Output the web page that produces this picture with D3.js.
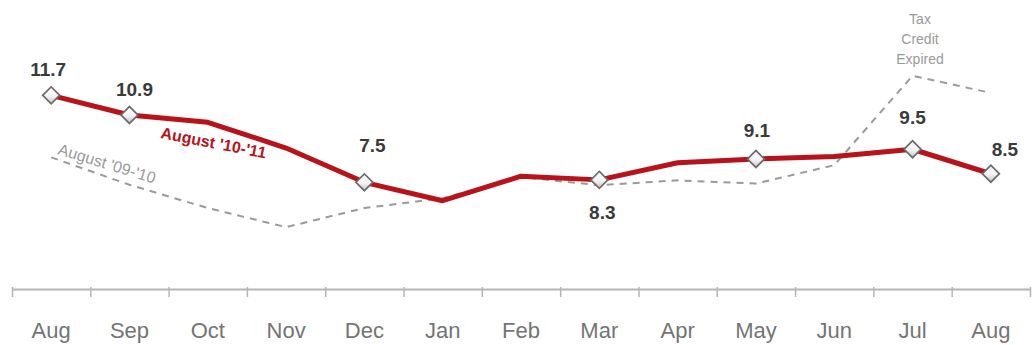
<!DOCTYPE html>
<html>
<head>
<meta charset="utf-8">
<script src="https://cdn.jsdelivr.net/npm/d3@7"></script>
<style>
  body { margin: 0; background: #fff; }
  svg { display: block; font-family: "Liberation Sans", Arial, sans-serif; }
</style>
</head>
<body>
<svg id="chart" width="1034" height="345"></svg>
<script>
// months on the axis
const months = ["Aug","Sep","Oct","Nov","Dec","Jan","Feb","Mar","Apr","May","Jun","Jul","Aug"];
// August '10-'11 (red line)
const current = [11.7, 10.9, 10.6, 9.55, 8.15, 7.4, 8.4, 8.25, 8.95, 9.1, 9.2, 9.5, 8.5];
// August '09-'10 (grey dashed line)
const previous = [9.17, 8.05, 7.1, 6.32, 7.1, 7.5, 8.36, 8.03, 8.23, 8.1, 8.85, 12.5, 11.8];
// labelled points: index, text
const labelIdx = [0, 1, 4, 7, 9, 11, 12];
const labelText = ["11.7", "10.9", "7.5", "8.3", "9.1", "9.5", "8.5"];

const svg = d3.select("#chart");
const axisY = 289;

const x = d3.scaleBand().domain(d3.range(months.length)).range([12, 1030]);
const xEdge = d3.scaleLinear().domain([0, months.length]).range([12, 1030]);
const y = d3.scaleLinear().domain([6, 12]).range([235, 88]);

const cx = i => x(i) + x.bandwidth() / 2;

// diamond gradient
const defs = svg.append("defs");
const grad = defs.append("linearGradient").attr("id", "dia")
    .attr("x1", "0").attr("y1", "0").attr("x2", "1").attr("y2", "1");
grad.append("stop").attr("offset", "0%").attr("stop-color", "#ffffff");
grad.append("stop").attr("offset", "55%").attr("stop-color", "#f2f2f2");
grad.append("stop").attr("offset", "100%").attr("stop-color", "#c4c4c4");

// axis: line with ticks at band edges
const tickAxis = d3.axisBottom(xEdge)
    .tickValues(d3.range(months.length + 1))
    .tickFormat("")
    .tickSize(8)
    .tickSizeOuter(0);
const gTicks = svg.append("g").attr("transform", `translate(0,${axisY})`).call(tickAxis);
gTicks.select(".domain").attr("stroke", "#b5b5b5").attr("stroke-width", 2);
gTicks.selectAll(".tick line").attr("stroke", "#b5b5b5").attr("stroke-width", 1.5).attr("y1", -2);

const labelAxis = d3.axisBottom(x).tickSize(0).tickPadding(0).tickFormat(i => months[i]);
const gLabels = svg.append("g").attr("transform", `translate(0,${axisY})`).call(labelAxis);
gLabels.select(".domain").remove();
gLabels.selectAll("text")
    .attr("dy", null).attr("y", 49)
    .attr("font-size", 22).attr("font-family", "\"Liberation Sans\", Arial, sans-serif")
    .attr("fill", "#747474");

// grey dashed line
const line = d3.line().x((d, i) => cx(i)).y(d => y(d));
svg.append("path").datum(previous)
    .attr("d", line)
    .attr("fill", "none")
    .attr("stroke", "#9a9a9a")
    .attr("stroke-width", 2)
    .attr("stroke-dasharray", "7,6");

// red line
svg.append("path").datum(current)
    .attr("d", line)
    .attr("fill", "none")
    .attr("stroke", "#b8121b")
    .attr("stroke-width", 5)
    .attr("stroke-linejoin", "round");

// diamonds
svg.selectAll("rect.dia").data(labelIdx).enter().append("rect")
    .attr("class", "dia")
    .attr("x", -6).attr("y", -6).attr("width", 12).attr("height", 12)
    .attr("transform", i => `translate(${cx(i)},${y(current[i])}) rotate(45)`)
    .attr("fill", "url(#dia)")
    .attr("stroke", "#6a6a6a")
    .attr("stroke-width", 1.7);

// value labels
const labelOff = [[-3, -19], [5, -19], [8, -30], [3, 39], [1, -22], [0, -25], [14, -18]];
svg.selectAll("text.val").data(labelIdx).enter().append("text")
    .attr("class", "val")
    .attr("x", (i, k) => cx(i) + labelOff[k][0])
    .attr("y", (i, k) => y(current[i]) + labelOff[k][1])
    .attr("text-anchor", "middle")
    .attr("font-size", 19)
    .attr("font-weight", "bold")
    .attr("fill", "#3a3a3a")
    .text((i, k) => labelText[k]);

// series labels
svg.append("text")
    .attr("transform", "translate(160,138) rotate(11)")
    .attr("font-size", 16)
    .attr("font-weight", "bold")
    .attr("fill", "#b8121b")
    .text("August '10-'11");

svg.append("text")
    .attr("transform", "translate(57,154) rotate(17)")
    .attr("font-size", 16)
    .attr("fill", "#9a9a9a")
    .text("August '09-'10");

// annotation
const note = svg.append("text")
    .attr("text-anchor", "middle")
    .attr("font-size", 14)
    .attr("fill", "#9a9a9a");
["Tax", "Credit", "Expired"].forEach((t, k) => {
  note.append("tspan").attr("x", 920).attr("y", 24 + k * 20).text(t);
});
</script>
</body>
</html>
